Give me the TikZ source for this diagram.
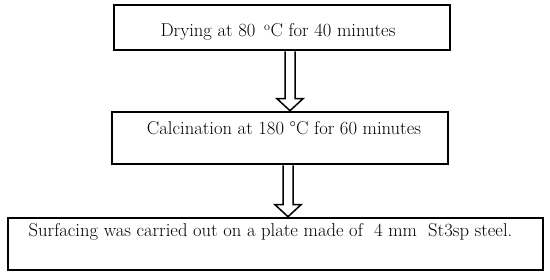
\documentclass[tikz,border=0pt]{standalone}
\usetikzlibrary{calc}
\begin{document}
\begin{tikzpicture}[x=1pt,y=-1pt,
  stepbox/.style={draw,line width=2.6pt,inner sep=0pt,font=\fontsize{18.6}{21}\selectfont},
  blockarrow/.style={draw,line width=1.5pt,fill=white,line join=miter}]
\useasboundingbox (0,0) rectangle (550,280);
\node[stepbox,minimum width=336,minimum height=45] (b1) at (282,27.5)
  {\raisebox{-9.5pt}[0pt][0pt]{\hspace*{-8pt}Drying at 80 \,$^{\mathrm{o}}$C for 40 minutes}};
\node[stepbox,minimum width=336,minimum height=52] (b2) at (280,138)
  {\raisebox{3pt}[0pt][0pt]{\hspace*{8pt}Calcination at 180 \textdegree C for 60 minutes}};
\node[stepbox,minimum width=535,minimum height=52] (b3) at (275.5,244)
  {\raisebox{7pt}[0pt][0pt]{\hspace*{-10pt}Surfacing was carried out on a plate made of \ 4 mm \ St3sp steel.}};
\draw[blockarrow] let \p1=($(b1.south)+(8,0)$), \p2=(b2.north) in
  (\x1-5pt,\y1) -- (\x1-5pt,\y2+12pt) -- (\x1-13pt,\y2+12pt) -- (\x1,\y2)
  -- (\x1+13pt,\y2+12pt) -- (\x1+5pt,\y2+12pt) -- (\x1+5pt,\y1);
\draw[blockarrow] let \p1=($(b2.south)+(8,0)$), \p2=(b3.north) in
  (\x1-5pt,\y1) -- (\x1-5pt,\y2+12pt) -- (\x1-13pt,\y2+12pt) -- (\x1,\y2)
  -- (\x1+13pt,\y2+12pt) -- (\x1+5pt,\y2+12pt) -- (\x1+5pt,\y1);
\end{tikzpicture}
\end{document}
